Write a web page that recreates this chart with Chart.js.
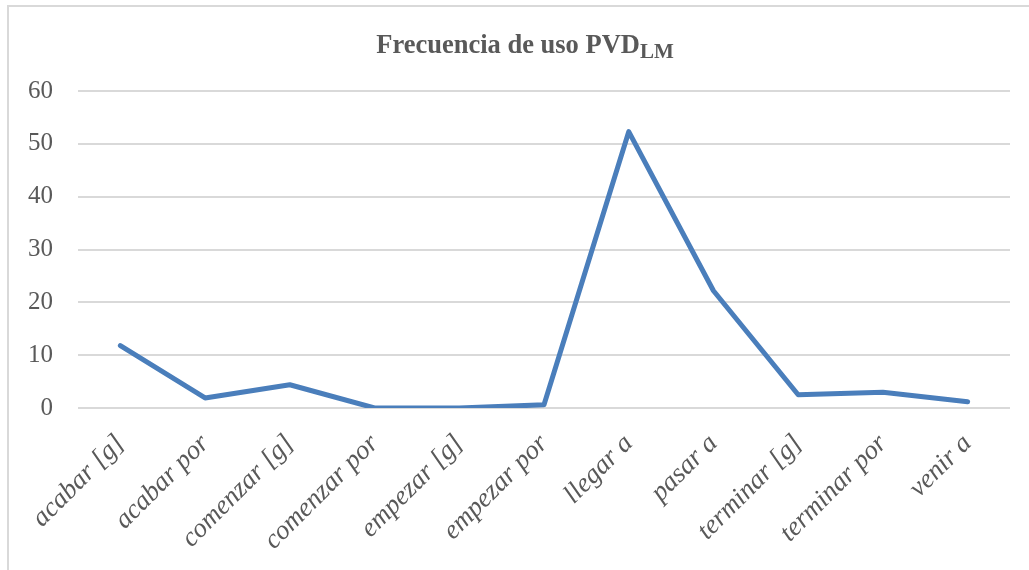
<!DOCTYPE html>
<html>
<head>
<meta charset="utf-8">
<script src="https://cdn.jsdelivr.net/npm/chart.js@4/dist/chart.umd.min.js"></script>
<style>
  html, body { margin: 0; padding: 0; background: #fff; overflow: hidden; }
  #frame { position: absolute; left: 7px; top: 5px; width: 1100px; height: 700px; border: 2px solid #d9d9d9; }
  #wrap { position: absolute; left: 0; top: 0; width: 1029px; height: 570px; }
  #title { position: absolute; left: 0; width: 1050px; top: 29px; text-align: center;
           font: bold 26.5px "Liberation Serif", serif; color: #595959; }
  #title sub { font-size: 21px; vertical-align: -5px; }
</style>
</head>
<body>
<div id="frame"></div>
<div id="wrap"><canvas id="chart"></canvas></div>
<div id="title">Frecuencia de uso PVD<sub>LM</sub></div>
<script>
const categories = ['acabar [g]', 'acabar por', 'comenzar [g]', 'comenzar por', 'empezar [g]',
    'empezar por', 'llegar a', 'pasar a', 'terminar [g]', 'terminar por', 'venir a'];
const frecuencia = [11.8, 1.9, 4.4, 0, 0, 0.6, 52.3, 22.2, 2.5, 3.0, 1.2];
const yTicks = [0, 10, 20, 30, 40, 50, 60];

const ctx = document.getElementById('chart').getContext('2d');
new Chart(ctx, {
    type: 'line',
    data: {
        labels: categories,
        datasets: [{
            label: 'Frecuencia',
            data: frecuencia,
            borderColor: '#4a7ebb',
            borderWidth: 5,
            borderCapStyle: 'round',
            borderJoinStyle: 'round',
            pointRadius: 0,
            tension: 0,
            fill: false
        }]
    },
    options: {
        responsive: true,
        maintainAspectRatio: false,
        animation: false,
        layout: { padding: { left: 8, right: 19, top: 91, bottom: 0 } },
        plugins: {
            legend: { display: false },
            tooltip: { enabled: false },
            title: { display: false }
        },
        scales: {
            x: {
                offset: true,
                grid: { display: false, offset: true },
                border: { display: false },
                afterFit: s => { s.height = 162; },
                ticks: {
                    autoSkip: false,
                    maxRotation: 45,
                    minRotation: 45,
                    padding: 12,
                    color: '#595959',
                    font: { family: '"Liberation Serif", serif', size: 27, style: 'italic' }
                }
            },
            y: {
                min: 0,
                max: 60,
                afterFit: s => { s.width = 70; },
                afterBuildTicks: s => { s.ticks = yTicks.map(v => ({ value: v })); },
                grid: { color: '#d9d9d9', lineWidth: 2, drawTicks: false },
                border: { display: false },
                ticks: {
                    padding: 25,
                    color: '#595959',
                    font: { family: '"Liberation Serif", serif', size: 25 }
                }
            }
        }
    }
});
</script>
</body>
</html>
